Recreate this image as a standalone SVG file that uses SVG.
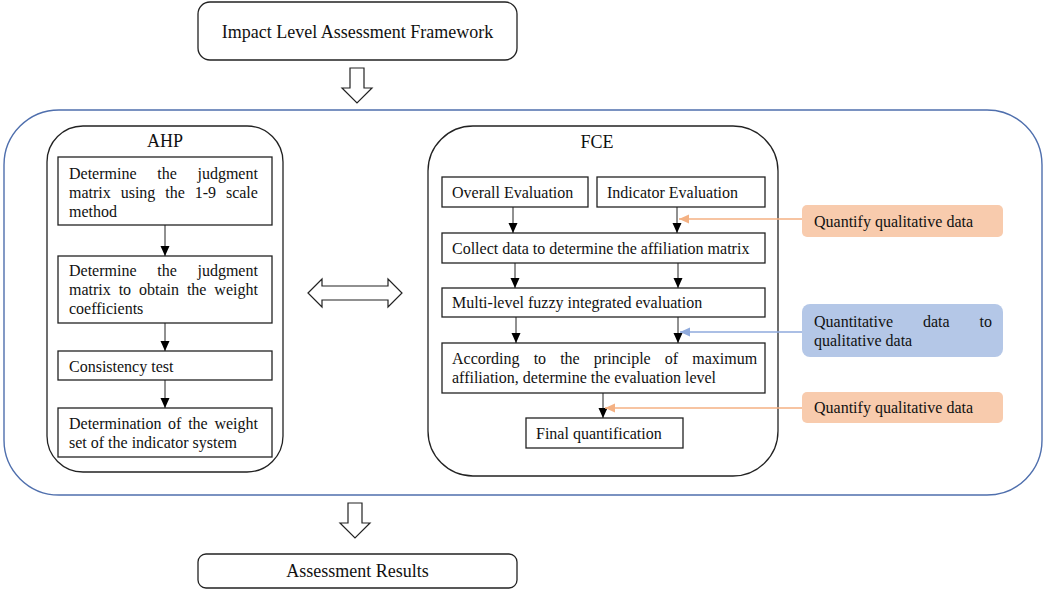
<svg xmlns="http://www.w3.org/2000/svg" width="1045" height="592" viewBox="0 0 1045 592">
  <defs>
    <marker id="ah-black" markerUnits="userSpaceOnUse" markerWidth="10" markerHeight="10" viewBox="0 0 10 10" refX="10" refY="5" orient="auto">
      <path d="M0,0.5 L10,5 L0,9.5 z" fill="#000"/>
    </marker>
    <marker id="ah-orange" markerUnits="userSpaceOnUse" markerWidth="10" markerHeight="10" viewBox="0 0 10 10" refX="10" refY="5" orient="auto">
      <path d="M0,0.5 L10,5 L0,9.5 z" fill="#f4b183"/>
    </marker>
    <marker id="ah-blue" markerUnits="userSpaceOnUse" markerWidth="10" markerHeight="10" viewBox="0 0 10 10" refX="10" refY="5" orient="auto">
      <path d="M0,0.5 L10,5 L0,9.5 z" fill="#8faadc"/>
    </marker>
  </defs>
  <style>
    text { font-family: "Liberation Serif", "Times New Roman", serif; fill: #111; }
    .t16 { font-size: 16px; }
    .t18 { font-size: 18px; }
    .mid { text-anchor: middle; }
    .box { fill: #fff; stroke: #222; stroke-width: 1.3; }
    .rbox { fill: #fff; stroke: #222; stroke-width: 1.3; }
    .panel { fill: none; stroke: #222; stroke-width: 1.3; }
    .hollow { fill: #fff; stroke: #222; stroke-width: 1.2; stroke-linejoin: miter; }
    .flow { stroke: #222; stroke-width: 1; fill: none; marker-end: url(#ah-black); }
    .orange { stroke: #f4b183; stroke-width: 1.6; fill: none; marker-end: url(#ah-orange); }
    .blue { stroke: #8faadc; stroke-width: 1.6; fill: none; marker-end: url(#ah-blue); }
    .tagO { fill: #f8cbad; }
    .tagB { fill: #b4c7e7; }
  </style>

  <rect width="1045" height="592" fill="#fff"/>

  <!-- outer framework container -->
  <rect x="4" y="110" width="1038" height="385" rx="55" ry="55" fill="none" stroke="#4f6fad" stroke-width="1.4"/>

  <g id="framework">
    <rect class="rbox" x="198" y="2" width="319" height="58" rx="12"/>
    <text class="t18 mid" x="357.5" y="38">Impact Level Assessment Framework</text>
  </g>

  <g id="results">
    <rect class="rbox" x="198" y="554" width="319" height="34" rx="8"/>
    <text class="t18 mid" x="357.5" y="577">Assessment Results</text>
  </g>

  <!-- AHP panel -->
  <g id="ahp">
    <rect class="panel" x="47" y="126" width="236" height="346" rx="36"/>
    <text class="t18 mid" x="165" y="147">AHP</text>
  </g>
  <g id="ahp-1">
    <rect class="box" x="58" y="157" width="214" height="68"/>
    <text class="t16" x="69" y="179" word-spacing="16.7">Determine the judgment</text>
    <text class="t16" x="69" y="198" word-spacing="5.9">matrix using the 1-9 scale</text>
    <text class="t16" x="69" y="217">method</text>
  </g>
  <g id="ahp-2">
    <rect class="box" x="58" y="256" width="214" height="67"/>
    <text class="t16" x="69" y="276" word-spacing="16.7">Determine the judgment</text>
    <text class="t16" x="69" y="295" word-spacing="3.9">matrix to obtain the weight</text>
    <text class="t16" x="69" y="314">coefficients</text>
  </g>
  <g id="ahp-3">
    <rect class="box" x="58" y="351" width="214" height="29"/>
    <text class="t16" x="69" y="371.5">Consistency test</text>
  </g>
  <g id="ahp-4">
    <rect class="box" x="58" y="408" width="214" height="49"/>
    <text class="t16" x="69" y="429" word-spacing="2.7">Determination of the weight</text>
    <text class="t16" x="69" y="448">set of the indicator system</text>
  </g>

  <!-- FCE panel -->
  <g id="fce">
    <rect class="panel" x="428" y="126" width="350" height="350" rx="45"/>
    <text class="t18 mid" x="597" y="148">FCE</text>
  </g>
  <g id="fce-overall">
    <rect class="box" x="442" y="177" width="146" height="30"/>
    <text class="t16" x="452" y="197.5">Overall Evaluation</text>
  </g>
  <g id="fce-indicator">
    <rect class="box" x="597" y="177" width="168" height="30"/>
    <text class="t16" x="607" y="197.5">Indicator Evaluation</text>
  </g>
  <g id="fce-collect">
    <rect class="box" x="442" y="233" width="323" height="30"/>
    <text class="t16" x="452" y="253.5">Collect data to determine the affiliation matrix</text>
  </g>
  <g id="fce-multi">
    <rect class="box" x="442" y="288" width="323" height="29"/>
    <text class="t16" x="452" y="308">Multi-level fuzzy integrated evaluation</text>
  </g>
  <g id="fce-level">
    <rect class="box" x="442" y="343" width="323" height="50"/>
    <text class="t16" x="452" y="364" word-spacing="10.1">According to the principle of maximum</text>
    <text class="t16" x="452" y="383">affiliation, determine the evaluation level</text>
  </g>
  <g id="fce-final">
    <rect class="box" x="526" y="418" width="157" height="30"/>
    <text class="t16" x="536" y="438.5">Final quantification</text>
  </g>

  <!-- data conversion tags -->
  <g id="tag-quantify-1">
    <rect class="tagO" x="802" y="205" width="201" height="32" rx="5"/>
    <text class="t16" x="814" y="226.5">Quantify qualitative data</text>
  </g>
  <g id="tag-quant-to-qual">
    <rect class="tagB" x="802" y="304" width="201" height="53" rx="8"/>
    <text class="t16" x="814" y="327" word-spacing="25.9">Quantitative data to</text>
    <text class="t16" x="814" y="346">qualitative data</text>
  </g>
  <g id="tag-quantify-2">
    <rect class="tagO" x="802" y="392" width="201" height="31" rx="5"/>
    <text class="t16" x="814" y="413">Quantify qualitative data</text>
  </g>

  <!-- connectors -->
  <g id="connectors">
    <!-- hollow block arrows -->
    <path class="hollow" d="M350,68 H364 V88 H372 L357,103 L342,88 H350 Z"/>
    <path class="hollow" d="M348,503 H362 V523 H370 L355,538 L340,523 H348 Z"/>
    <path class="hollow" d="M308,293 L322,279 V286 H388 V279 L402,293 L388,307 V300 H322 V307 Z"/>

    <!-- AHP flow -->
    <line class="flow" x1="165" y1="225" x2="165" y2="256"/>
    <line class="flow" x1="165" y1="323" x2="165" y2="351"/>
    <line class="flow" x1="165" y1="380" x2="165" y2="408"/>

    <!-- FCE flow -->
    <line class="flow" x1="513" y1="207" x2="513" y2="233"/>
    <line class="flow" x1="677" y1="207" x2="677" y2="233"/>
    <line class="flow" x1="515" y1="263" x2="515" y2="288"/>
    <line class="flow" x1="678" y1="263" x2="678" y2="288"/>
    <line class="flow" x1="516" y1="317" x2="516" y2="343"/>
    <line class="flow" x1="678" y1="317" x2="678" y2="343"/>
    <line class="flow" x1="603" y1="393" x2="603" y2="418"/>

    <!-- side inputs -->
    <line class="orange" x1="802" y1="219" x2="679" y2="219"/>
    <line class="blue" x1="802" y1="332" x2="680" y2="332"/>
    <line class="orange" x1="802" y1="408" x2="605" y2="408"/>
  </g>
</svg>
